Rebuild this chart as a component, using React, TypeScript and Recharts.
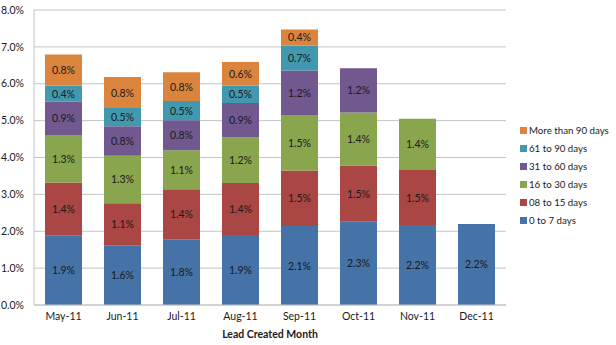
import React from "react";
import { BarChart, Bar, XAxis, YAxis, CartesianGrid, LabelList, Legend } from "recharts";

const months = ["May-11", "Jun-11", "Jul-11", "Aug-11", "Sep-11", "Oct-11", "Nov-11", "Dec-11"];
const d0to7 = [1.88, 1.62, 1.78, 1.9, 2.14, 2.26, 2.17, 2.2];
const d8to15 = [1.44, 1.14, 1.36, 1.41, 1.51, 1.52, 1.49, null];
const d16to30 = [1.29, 1.29, 1.06, 1.23, 1.5, 1.44, 1.39, null];
const d31to60 = [0.9, 0.8, 0.81, 0.94, 1.21, 1.2, null, null];
const d61to90 = [0.44, 0.49, 0.52, 0.47, 0.68, null, null, null];
const dOver90 = [0.84, 0.84, 0.78, 0.64, 0.43, null, null, null];
const yTicks = [0, 1, 2, 3, 4, 5, 6, 7, 8];

const series = [
  { key: "s0", name: "0 to 7 days", values: d0to7, color: "#4572A7" },
  { key: "s1", name: "08 to 15 days", values: d8to15, color: "#AA4643" },
  { key: "s2", name: "16 to 30 days", values: d16to30, color: "#89A54E" },
  { key: "s3", name: "31 to 60 days", values: d31to60, color: "#71588F" },
  { key: "s4", name: "61 to 90 days", values: d61to90, color: "#4198AF" },
  { key: "s5", name: "More than 90 days", values: dOver90, color: "#DB843D" },
];

const data = months.map((m, i) => {
  const row: any = { month: m };
  series.forEach((s) => {
    row[s.key] = s.values[i];
  });
  return row;
});

const FONT = "Lato, 'Open Sans', sans-serif";

const renderLabel = (props: any) => {
  const { x, y, width, height, value } = props;
  if (value === null || value === undefined) return null;
  return (
    <text
      x={x + width / 2}
      y={y + height / 2}
      textAnchor="middle"
      dominantBaseline="central"
      fontSize={10.5}
      fontFamily={FONT}
      fill="#1a1a1a"
    >
      {Number(value).toFixed(1) + "%"}
    </text>
  );
};

const renderLegend = () => {
  const items = [...series].reverse();
  return (
    <div style={{ fontFamily: FONT, fontSize: 9.7, color: "#1a1a1a" }}>
      {items.map((s) => (
        <div key={s.key} style={{ display: "flex", alignItems: "center", height: 18, whiteSpace: "nowrap" }}>
          <span style={{ display: "inline-block", width: 7, height: 7, background: s.color, marginRight: 2 }} />
          <span>{s.name}</span>
        </div>
      ))}
    </div>
  );
};

export default function App() {
  return (
    <div style={{ position: "absolute", left: 0, top: 0, width: 616, height: 345, background: "#fff" }}>
      <BarChart
        width={616}
        height={345}
        data={data}
        margin={{ top: 10, right: 14, left: 0, bottom: 0 }}
        barSize={37}
      >
        <CartesianGrid vertical={false} stroke="#c4c4c4" strokeWidth={1} />
        <XAxis
          dataKey="month"
          height={40}
          tickLine={false}
          tickSize={0}
          axisLine={{ stroke: "#c4c4c4" }}
          tick={{ fontSize: 10.5, fontFamily: FONT, fill: "#1a1a1a" }}
          tickMargin={8}
          label={{
            value: "Lead Created Month",
            position: "insideBottom",
            offset: 7,
            fontSize: 10.5,
            fontFamily: FONT,
            fontWeight: "bold",
            fill: "#1a1a1a",
          }}
        />
        <YAxis
          width={34}
          domain={[0, 8]}
          ticks={yTicks}
          interval={0}
          tickLine={false}
          tickSize={0}
          axisLine={{ stroke: "#c4c4c4" }}
          tickFormatter={(v: number) => v.toFixed(1) + "%"}
          tick={{ fontSize: 10.5, fontFamily: FONT, fill: "#1a1a1a" }}
          tickMargin={10}
        />
        <Legend
          layout="horizontal"
          verticalAlign="middle"
          align="right"
          content={renderLegend}
          wrapperStyle={{ position: "absolute", left: 520, top: 121, width: 96, height: 110 }}
        />
        {series.map((s) => (
          <Bar key={s.key} dataKey={s.key} name={s.name} stackId="a" fill={s.color} isAnimationActive={false}>
            <LabelList dataKey={s.key} content={renderLabel} />
          </Bar>
        ))}
      </BarChart>
    </div>
  );
}
